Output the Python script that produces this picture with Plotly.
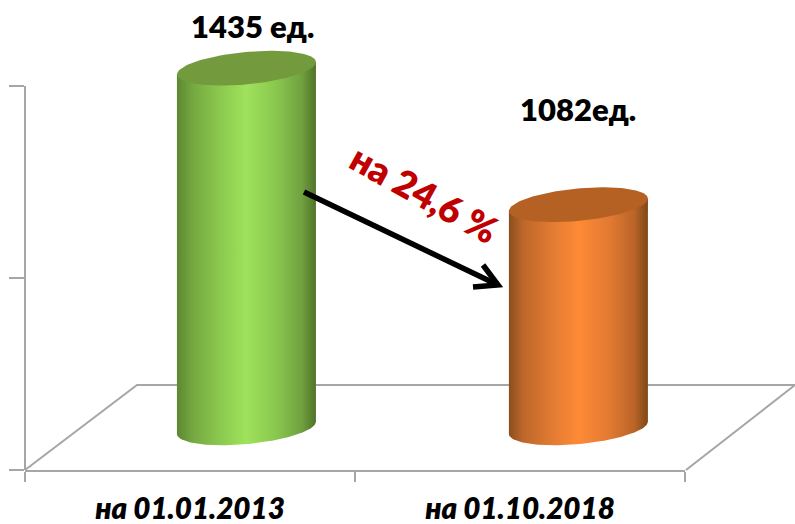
import numpy as np
import plotly.graph_objects as go

# --- data ---
categories = ["на 01.01.2013", "на 01.10.2018"]
values = [1435, 1082]
units = ["ед.", "ед."]
label_gap = [" ", ""]
change_label = "на 24,6 %"
base_value = 505
axis_range = [396, 1508]
y_ticks = [396, 892.5, 1389]
cat_pos = [0.5, 1.5]
x_ticks = [0, 1, 2]
body_scales = [
    [[0, "#5c8733"], [0.12, "#76a941"], [0.3, "#8ac74e"], [0.5, "#9fe25c"],
     [0.72, "#89c64e"], [0.9, "#70a03f"], [1, "#4f7229"]],
    [[0, "#8a4f1e"], [0.1, "#bd662a"], [0.3, "#e07a32"], [0.5, "#ff8a36"],
     [0.72, "#e27a32"], [0.9, "#bb6528"], [1, "#7f4718"]],
]
cap_colors = ["#739b3e", "#b56124"]

# --- layout geometry ---
W, H = 795, 524
L, R, T, B = 25, 685, 40, 470
AXIS_TOP = 86
GRAY = "#a6a6a6"
depth_shifts = [0.171, 0.177]
half_w = 0.2106
ell_b = 42
ell_tilt = 16


def px(x):
    return (x - L) / (R - L)


def py(y):
    return (B - y) / (B - T)


def path(points):
    return "M " + " L ".join(f"{px(a):.5f},{py(b):.5f}" for a, b in points)


fig = go.Figure()

for cat, shift, val, scale, cap in zip(cat_pos, depth_shifts, values, body_scales, cap_colors):
    cx = cat + shift
    t = np.linspace(0, np.pi, 80)
    bx = cx + half_w * np.cos(t)
    by = base_value + ell_tilt * np.cos(t) - ell_b * np.sin(t)
    xs = np.concatenate([[cx - half_w, cx + half_w], bx, [cx - half_w]])
    ys = np.concatenate([[val - ell_tilt, val + ell_tilt], by, [val - ell_tilt]])
    fig.add_trace(go.Scatter(
        x=xs, y=ys, mode="lines", fill="toself", line=dict(width=0),
        fillgradient=dict(type="horizontal", colorscale=scale),
        cliponaxis=False, hoverinfo="skip", showlegend=False))
    t2 = np.linspace(0, 2 * np.pi, 160)
    fig.add_trace(go.Scatter(
        x=cx + half_w * np.cos(t2),
        y=val + ell_tilt * np.cos(t2) + ell_b * np.sin(t2),
        mode="lines", fill="toself", fillcolor=cap, line=dict(width=0),
        cliponaxis=False, hoverinfo="skip", showlegend=False))

floor = [(25, 470), (137, 385), (795, 385), (686, 470)]
shapes = [
    dict(type="path", xref="paper", yref="paper", path=path(floor),
         line=dict(color=GRAY, width=2), layer="below"),
    dict(type="path", xref="paper", yref="paper",
         path=path([(L, AXIS_TOP), (L, B)]),
         line=dict(color=GRAY, width=2), layer="below"),
    dict(type="path", xref="paper", yref="paper",
         path=path([(304, 192), (498, 285)]),
         line=dict(color="black", width=5.5), layer="above"),
    dict(type="path", xref="paper", yref="paper",
         path=path([(483, 265), (498, 285), (473, 287)]),
         line=dict(color="black", width=5.5), layer="above"),
]

family = "Lato, Carlito, 'Open Sans', sans-serif"
text_font = dict(family=family, size=31, color="black", weight=800)
annotations = [
    dict(text=f"{values[0]}{label_gap[0]}{units[0]}", xref="paper", yref="paper",
         x=px(252), y=py(26), showarrow=False, font=text_font,
         xanchor="center", yanchor="middle"),
    dict(text=f"{values[1]}{label_gap[1]}{units[1]}", xref="paper", yref="paper",
         x=px(578), y=py(109), showarrow=False, font=text_font,
         xanchor="center", yanchor="middle"),
    dict(text=change_label, xref="paper", yref="paper", x=px(425), y=py(193),
         showarrow=False, textangle=29, xanchor="center", yanchor="middle",
         font=dict(family=family, size=37, color="#c00000", weight=800)),
]

fig.update_layout(
    width=W, height=H, autosize=False,
    margin=dict(l=L, r=W - R, t=T, b=H - B, pad=0, autoexpand=False),
    paper_bgcolor="white", plot_bgcolor="white",
    showlegend=False, shapes=shapes, annotations=annotations,
    xaxis=dict(
        range=[0, 2], showgrid=False, zeroline=False, automargin=False,
        showline=True, linecolor=GRAY, linewidth=2,
        tickmode="array", tickvals=cat_pos, ticktext=categories, ticks="",
        ticklabelstandoff=11,
        tickfont=dict(family=family, size=29.6, color="black",
                      weight=800, style="italic"),
        minor=dict(tickmode="array", tickvals=x_ticks, ticks="outside",
                   ticklen=10, tickwidth=1.5, tickcolor=GRAY),
    ),
    yaxis=dict(
        range=axis_range, showgrid=False, zeroline=False, automargin=False,
        showline=False,
        tickmode="array", tickvals=y_ticks, showticklabels=False,
        ticks="outside", ticklen=15, tickwidth=1.5, tickcolor=GRAY,
    ),
)

fig.write_html(
    "out.html", config=dict(displayModeBar=False),
    post_script="document.body.style.margin='0';document.documentElement.style.overflow='hidden';",
)
